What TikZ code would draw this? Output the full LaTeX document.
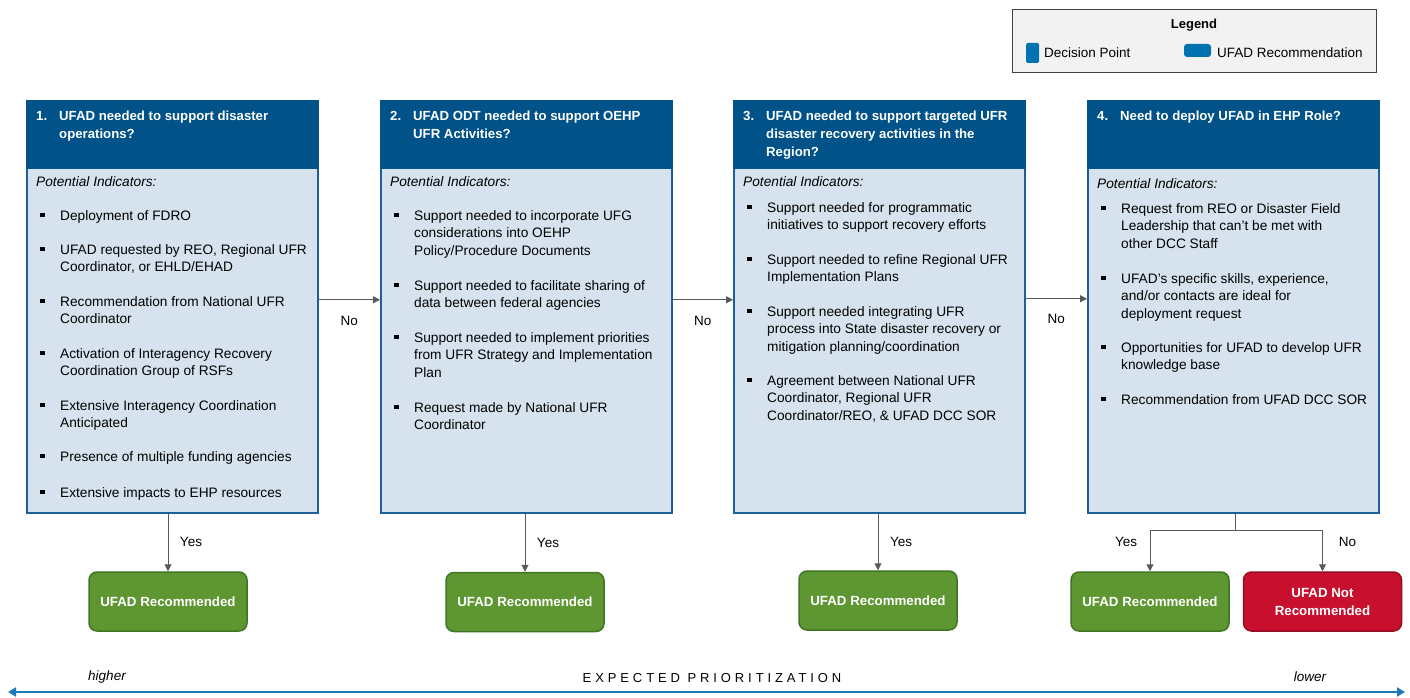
\documentclass[tikz,border=0pt]{standalone}
\usepackage{fontspec}
\setmainfont{Liberation Sans}
\usetikzlibrary{arrows.meta,positioning}
\definecolor{hdrblue}{RGB}{0,82,136}
\definecolor{edgeblue}{RGB}{30,95,155}
\definecolor{bodyblue}{RGB}{214,227,238}
\definecolor{recgreen}{RGB}{94,151,50}
\definecolor{recgreenline}{RGB}{62,118,36}
\definecolor{recred}{RGB}{200,16,46}
\definecolor{recredline}{RGB}{150,12,34}
\definecolor{flowgray}{RGB}{89,89,89}
\definecolor{keyblue}{RGB}{0,114,176}
\definecolor{priblue}{RGB}{30,122,186}
\definecolor{legendbg}{RGB}{242,242,242}
\definecolor{legendline}{RGB}{64,64,64}
\newcommand{\bul}{\rule{0pt}{11pt}\llap{\rule[3pt]{4.3pt}{4.3pt}\hspace{15.5pt}}}
\newcommand{\qnum}[1]{\rule{0pt}{11pt}\llap{\makebox[23pt][l]{#1}}}
\tikzset{
  decbox/.style={draw=edgeblue, line width=1.5pt, fill=bodyblue, anchor=north west,
    minimum width=291pt, minimum height=412pt, inner sep=0pt},
  dechead/.style={draw=hdrblue, line width=1.5pt, fill=hdrblue, anchor=north west,
    minimum width=291pt, minimum height=67pt, inner sep=0pt},
  headtxt/.style={anchor=north west, yshift=11pt, align=left, inner sep=0pt, text=white,
    font=\fontsize{13.2}{18}\selectfont\bfseries},
  indic/.style={anchor=north west, yshift=11pt, align=left, inner sep=0pt,
    font=\fontsize{13.7}{17.7}\selectfont},
  indlbl/.style={anchor=base west, inner sep=0pt,
    font=\fontsize{13.7}{17.7}\selectfont\itshape},
  recbox/.style={rounded corners=8pt, line width=1.5pt, minimum width=158pt,
    minimum height=59pt, inner sep=0pt, align=center, text=white,
    font=\fontsize{13.3}{18}\selectfont\bfseries},
  okbox/.style={recbox, draw=recgreenline, fill=recgreen},
  nobox/.style={recbox, draw=recredline, fill=recred},
  flow/.style={draw=flowgray, line width=1pt, -{Triangle[width=7pt,length=7pt]}},
  prio/.style={draw=priblue, line width=2.5pt,
    {Triangle[width=9pt,length=8pt]}-{Triangle[width=9pt,length=8pt]}},
  lbl/.style={font=\fontsize{13.5}{16}\selectfont, inner sep=0pt},
}
\begin{document}
\begin{tikzpicture}[x=1pt,y=-1pt]
\useasboundingbox (0,0) rectangle (1410,698);

% legend
\node[draw=legendline, line width=1pt, fill=legendbg, anchor=north west,
  minimum width=364pt, minimum height=63pt] (legend) at (1012,9) {};
\node[lbl, anchor=base, font=\fontsize{13}{16}\selectfont\bfseries] (legtitle) at (1194,29) {Legend};
\node[fill=keyblue, rounded corners=1.5pt, minimum width=13pt, minimum height=20pt, inner sep=0pt] (keydec) at (1032.5,53) {};
\node[lbl, anchor=west] (keydectxt) at (1044,53) {Decision Point};
\node[fill=keyblue, rounded corners=3pt, minimum width=27pt, minimum height=13pt, inner sep=0pt] (keyrec) at (1197.5,50.5) {};
\node[lbl, anchor=west] (keyrectxt) at (1217,53) {UFAD Recommendation};

% decision points
\node[decbox] (d1) at (26,100) {};
\node[dechead] (h1) at (26,100) {};
\node[decbox] (d2) at (380,100) {};
\node[dechead] (h2) at (380,100) {};
\node[decbox] (d3) at (733,100) {};
\node[dechead] (h3) at (733,100) {};
\node[decbox] (d4) at (1087,100) {};
\node[dechead] (h4) at (1087,100) {};

\node[headtxt] (t1) at (59,120) {\qnum{1.}UFAD needed to support disaster\\operations?};
\node[headtxt] (t2) at (413,120) {\qnum{2.}UFAD ODT needed to support OEHP\\UFR Activities?};
\node[headtxt] (t3) at (766,120) {\qnum{3.}UFAD needed to support targeted UFR\\disaster recovery activities in the\\Region?};
\node[headtxt] (t4) at (1120,120) {\qnum{4.}Need to deploy UFAD in EHP Role?};

% indicators 1
\node[indlbl] (p1) at (36,186) {Potential Indicators:};
\node[indic] (a11) at (60,220) {\bul Deployment of FDRO};
\node[indic] (a12) at (60,254) {\bul UFAD requested by REO, Regional UFR\\Coordinator, or EHLD/EHAD};
\node[indic] (a13) at (60,306) {\bul Recommendation from National UFR\\Coordinator};
\node[indic] (a14) at (60,358) {\bul Activation of Interagency Recovery\\Coordination Group of RSFs};
\node[indic] (a15) at (60,410) {\bul Extensive Interagency Coordination\\Anticipated};
\node[indic] (a16) at (60,461) {\bul Presence of multiple funding agencies};
\node[indic] (a17) at (60,497) {\bul Extensive impacts to EHP resources};

% indicators 2
\node[indlbl] (p2) at (390,186) {Potential Indicators:};
\node[indic] (a21) at (414,220) {\bul Support needed to incorporate UFG\\considerations into OEHP\\Policy/Procedure Documents};
\node[indic] (a22) at (414,290) {\bul Support needed to facilitate sharing of\\data between federal agencies};
\node[indic] (a23) at (414,342) {\bul Support needed to implement priorities\\from UFR Strategy and Implementation\\Plan};
\node[indic] (a24) at (414,412) {\bul Request made by National UFR\\Coordinator};

% indicators 3
\node[indlbl] (p3) at (743,186) {Potential Indicators:};
\node[indic] (a31) at (767,212) {\bul Support needed for programmatic\\initiatives to support recovery efforts};
\node[indic] (a32) at (767,264) {\bul Support needed to refine Regional UFR\\Implementation Plans};
\node[indic] (a33) at (767,316) {\bul Support needed integrating UFR\\process into State disaster recovery or\\mitigation planning/coordination};
\node[indic] (a34) at (767,385) {\bul Agreement between National UFR\\Coordinator, Regional UFR\\Coordinator/REO, \& UFAD DCC SOR};

% indicators 4
\node[indlbl] (p4) at (1097,188) {Potential Indicators:};
\node[indic] (a41) at (1121,213) {\bul Request from REO or Disaster Field\\Leadership that can't be met with\\other DCC Staff};
\node[indic] (a42) at (1121,283) {\bul UFAD's specific skills, experience,\\and/or contacts are ideal for\\deployment request};
\node[indic] (a43) at (1121,352) {\bul Opportunities for UFAD to develop UFR\\knowledge base};
\node[indic] (a44) at (1121,404) {\bul Recommendation from UFAD DCC SOR};

% recommendations
\node[okbox] (r1) at (168,601.5) {UFAD Recommended};
\node[okbox] (r2) at (525,602) {UFAD Recommended};
\node[okbox] (r3) at (878,600.5) {UFAD Recommended};
\node[okbox] (r4) at (1150,601.5) {UFAD Recommended};
\node[nobox] (x4) at (1322.5,601.5) {UFAD Not\\Recommended};

% flow
\draw[flow] ([yshift=7pt]d1.east) -- node[lbl, yshift=-21pt] {No} ([yshift=7pt]d2.west);
\draw[flow] ([yshift=7pt]d2.east) -- node[lbl, yshift=-21pt] {No} ([yshift=7pt]d3.west);
\draw[flow] ([yshift=8pt]d3.east) -- node[lbl, yshift=-20pt] {No} ([yshift=8pt]d4.west);
\draw[flow] (r1.north |- d1.south) -- node[lbl, xshift=23pt] {Yes} (r1.north);
\draw[flow] (r2.north |- d2.south) -- node[lbl, xshift=23pt] {Yes} (r2.north);
\draw[flow] (r3.north |- d3.south) -- node[lbl, xshift=23pt] {Yes} (r3.north);
\coordinate (split) at ([xshift=2pt,yshift=-17pt]d4.south);
\draw[flow] ([xshift=2pt]d4.south) -- (split) -| (r4.north);
\draw[flow] (split) -| (x4.north);
\node[lbl] (yes4) at ([xshift=-24pt,yshift=-11pt]split -| r4.north) {Yes};
\node[lbl] (no4) at ([xshift=25pt,yshift=-11pt]split -| x4.north) {No};

% prioritization
\coordinate (hi) at (8,692);
\coordinate (lo) at (1405,692);
\draw[prio] (hi) -- (lo);
\node[lbl, font=\fontsize{13.5}{16}\selectfont\itshape] (higher) at (107,677) {higher};
\node[lbl, font=\fontsize{13.5}{16}\selectfont\itshape] (lower) at (1310,677) {lower};
\node[lbl, font=\fontsize{13}{16}\selectfont\addfontfeature{LetterSpace=30}] (prtitle) at (712,678) {EXPECTED PRIORITIZATION};
\end{tikzpicture}
\end{document}
